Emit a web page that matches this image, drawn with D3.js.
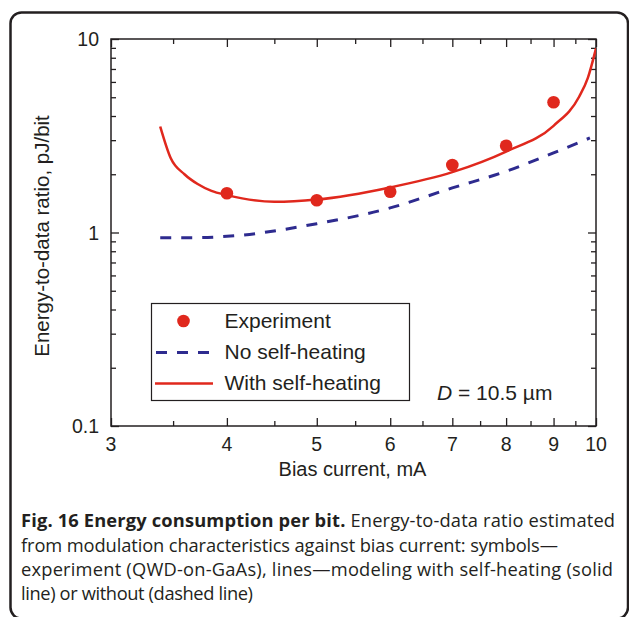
<!DOCTYPE html>
<html>
<head>
<meta charset="utf-8">
<script src="https://cdn.jsdelivr.net/npm/d3@7/dist/d3.min.js"></script>
<style>
  html, body { margin: 0; padding: 0; background: #fff; }
  svg { display: block; }
</style>
</head>
<body>
<svg id="chart" width="629" height="617"></svg>
<script>
// ---- Data ----
const xMajorTicks = [3, 4, 5, 6, 7, 8, 9, 10];
const xMinorTicks = [3.5, 4.5, 5.5, 6.5, 7.5, 8.5, 9.5];
const yMajorTicks = [0.1, 1, 10];
const yTickLabels = ["0.1", "1", "10"];
const yMinorTicks = [0.2, 0.3, 0.4, 0.5, 0.6, 0.7, 0.8, 0.9, 2, 3, 4, 5, 6, 7, 8, 9];

const expX = [4, 5, 6, 7, 8, 9];
const expY = [1.595, 1.467, 1.625, 2.233, 2.81, 4.71];

const heatX = [3.39, 3.48, 3.6, 3.72, 3.85, 4, 4.5, 5, 6, 7, 8, 9, 9.59, 9.8, 10];
const heatY = [3.53, 2.42, 2.0, 1.78, 1.64, 1.56, 1.44, 1.48, 1.71, 2.05, 2.62, 3.56, 5.03, 6.3, 8.95];

const noX = [3.39, 3.66, 4, 5, 6, 7, 8, 9, 9.85];
const noY = [0.94, 0.94, 0.955, 1.11, 1.34, 1.70, 2.07, 2.58, 3.08];

const legendLabels = ["Experiment", "No self-heating", "With self-heating"];
const xTitle = "Bias current, mA";
const yTitle = "Energy-to-data ratio, pJ/bit";
const captionBold = "Fig. 16 Energy consumption per bit.";
const captionLines = [
  " Energy-to-data ratio estimated",
  "from modulation characteristics against bias current: symbols\u2014",
  "experiment (QWD-on-GaAs), lines\u2014modeling with self-heating (solid",
  "line) or without (dashed line)"
];

// ---- Layout ----
const RED = "#e0281d";
const BLUE = "#2e2b8f";
const INK = "#231f20";
const plot = { left: 111, right: 596, top: 39, bottom: 426 };
const svg = d3.select("#chart");
const FONT = "'Liberation Sans', Arial, Helvetica, sans-serif";

const x = d3.scaleLog().domain([3, 10]).range([plot.left, plot.right]);
const y = d3.scaleLog().domain([0.1, 10]).range([plot.bottom, plot.top]);

// frame
svg.append("rect")
  .attr("x", 10.5).attr("y", 12.5)
  .attr("width", 617.5).attr("height", 606)
  .attr("rx", 11).attr("ry", 11)
  .attr("fill", "none").attr("stroke", INK).attr("stroke-width", 2.5);

// axes (ticks inward)
const g = svg.append("g");
function axisGroup(axis, tx, ty) {
  const a = g.append("g").attr("transform", `translate(${tx},${ty})`).call(axis);
  a.select(".domain").remove();
  a.selectAll("line").attr("stroke", INK).attr("stroke-width", 1.3);
  a.selectAll("text").remove();
  return a;
}
const MAJ = 8, MIN = 5;
axisGroup(d3.axisBottom(x).tickValues(xMajorTicks).tickSizeInner(-MAJ).tickSizeOuter(0), 0, plot.bottom);
axisGroup(d3.axisBottom(x).tickValues(xMinorTicks).tickSizeInner(-MIN).tickSizeOuter(0), 0, plot.bottom);
axisGroup(d3.axisTop(x).tickValues(xMajorTicks).tickSizeInner(-MAJ).tickSizeOuter(0), 0, plot.top);
axisGroup(d3.axisTop(x).tickValues(xMinorTicks).tickSizeInner(-MIN).tickSizeOuter(0), 0, plot.top);
axisGroup(d3.axisLeft(y).tickValues(yMajorTicks).tickSizeInner(-MAJ).tickSizeOuter(0), plot.left, 0);
axisGroup(d3.axisLeft(y).tickValues(yMinorTicks).tickSizeInner(-MIN).tickSizeOuter(0), plot.left, 0);
axisGroup(d3.axisRight(y).tickValues(yMajorTicks).tickSizeInner(-MAJ).tickSizeOuter(0), plot.right, 0);
axisGroup(d3.axisRight(y).tickValues(yMinorTicks).tickSizeInner(-MIN).tickSizeOuter(0), plot.right, 0);

g.append("rect")
  .attr("x", plot.left).attr("y", plot.top)
  .attr("width", plot.right - plot.left).attr("height", plot.bottom - plot.top)
  .attr("fill", "none").attr("stroke", INK).attr("stroke-width", 1.5);

// tick labels
svg.append("g").selectAll("text").data(xMajorTicks).join("text")
  .attr("x", d => x(d)).attr("y", 451)
  .attr("text-anchor", "middle")
  .style("font-family", FONT).style("font-size", "19.5px").attr("fill", INK)
  .text(d => d);
svg.append("g").selectAll("text").data(yMajorTicks).join("text")
  .attr("x", 99).attr("y", d => y(d) + 7)
  .attr("text-anchor", "end")
  .style("font-family", FONT).style("font-size", "19.5px").attr("fill", INK)
  .text((d, i) => yTickLabels[i]);

// axis titles
svg.append("text")
  .attr("x", (plot.left + plot.right) / 2 - 1).attr("y", 476)
  .attr("text-anchor", "middle")
  .style("font-family", FONT).style("font-size", "20px").attr("fill", INK)
  .text(xTitle);
svg.append("text")
  .attr("transform", `translate(49,236) rotate(-90)`)
  .attr("text-anchor", "middle")
  .style("font-family", FONT).style("font-size", "20.5px").attr("fill", INK)
  .text(yTitle);

// clip for lines
svg.append("clipPath").attr("id", "clip").append("rect")
  .attr("x", plot.left).attr("y", plot.top)
  .attr("width", plot.right - plot.left).attr("height", plot.bottom - plot.top);

const line = d3.line().x(d => x(d[0])).y(d => y(d[1])).curve(d3.curveMonotoneX);

svg.append("path")
  .datum(noX.map((v, i) => [v, noY[i]]))
  .attr("clip-path", "url(#clip)")
  .attr("d", line)
  .attr("fill", "none").attr("stroke", BLUE).attr("stroke-width", 3)
  .attr("stroke-dasharray", "11,10");

svg.append("path")
  .datum(heatX.map((v, i) => [v, heatY[i]]))
  .attr("clip-path", "url(#clip)")
  .attr("d", line)
  .attr("fill", "none").attr("stroke", RED).attr("stroke-width", 2.5);

svg.append("g").selectAll("circle").data(expX.map((v, i) => [v, expY[i]])).join("circle")
  .attr("cx", d => x(d[0])).attr("cy", d => y(d[1])).attr("r", 6.3)
  .attr("fill", RED);

// legend
const lg = svg.append("g");
lg.append("rect").attr("x", 151.5).attr("y", 303.5).attr("width", 258).attr("height", 97)
  .attr("fill", "#fff").attr("stroke", INK).attr("stroke-width", 1.2);
lg.append("circle").attr("cx", 183.5).attr("cy", 321).attr("r", 6.3).attr("fill", RED);
lg.append("line").attr("x1", 156).attr("x2", 210).attr("y1", 352.5).attr("y2", 352.5)
  .attr("stroke", BLUE).attr("stroke-width", 3).attr("stroke-dasharray", "11,10");
lg.append("line").attr("x1", 155).attr("x2", 213).attr("y1", 383.5).attr("y2", 383.5)
  .attr("stroke", RED).attr("stroke-width", 2.5);
const legendY = [328, 359, 390];
lg.selectAll("text.lab").data(legendLabels).join("text")
  .attr("class", "lab")
  .attr("x", 224.5).attr("y", (d, i) => legendY[i])
  .style("font-family", FONT).style("font-size", "21px").attr("fill", INK)
  .text(d => d);

// D annotation
const dt = svg.append("text").attr("x", 437).attr("y", 400)
  .style("font-family", FONT).style("font-size", "21px").attr("fill", INK);
dt.append("tspan").style("font-style", "italic").text("D");
dt.append("tspan").text(" = 10.5 \u00b5m");

// caption
const CFONT = "'Open Sans', 'Noto Sans', sans-serif";
const CSIZE = "18.3px";
const capY = [527, 551.5, 576, 600];
const capW = [594, 537, 592, 232];
const c0 = svg.append("text").attr("x", 21).attr("y", capY[0])
  .style("font-family", CFONT).style("font-size", CSIZE).attr("fill", INK)
  .attr("textLength", capW[0]).attr("lengthAdjust", "spacing");
c0.append("tspan").style("font-weight", "bold").text(captionBold);
c0.append("tspan").text(captionLines[0]);
for (let i = 1; i < captionLines.length; i++) {
  svg.append("text").attr("x", 21).attr("y", capY[i])
    .style("font-family", CFONT).style("font-size", CSIZE).attr("fill", INK)
    .attr("textLength", capW[i]).attr("lengthAdjust", "spacing")
    .text(captionLines[i]);
}
</script>
</body>
</html>
